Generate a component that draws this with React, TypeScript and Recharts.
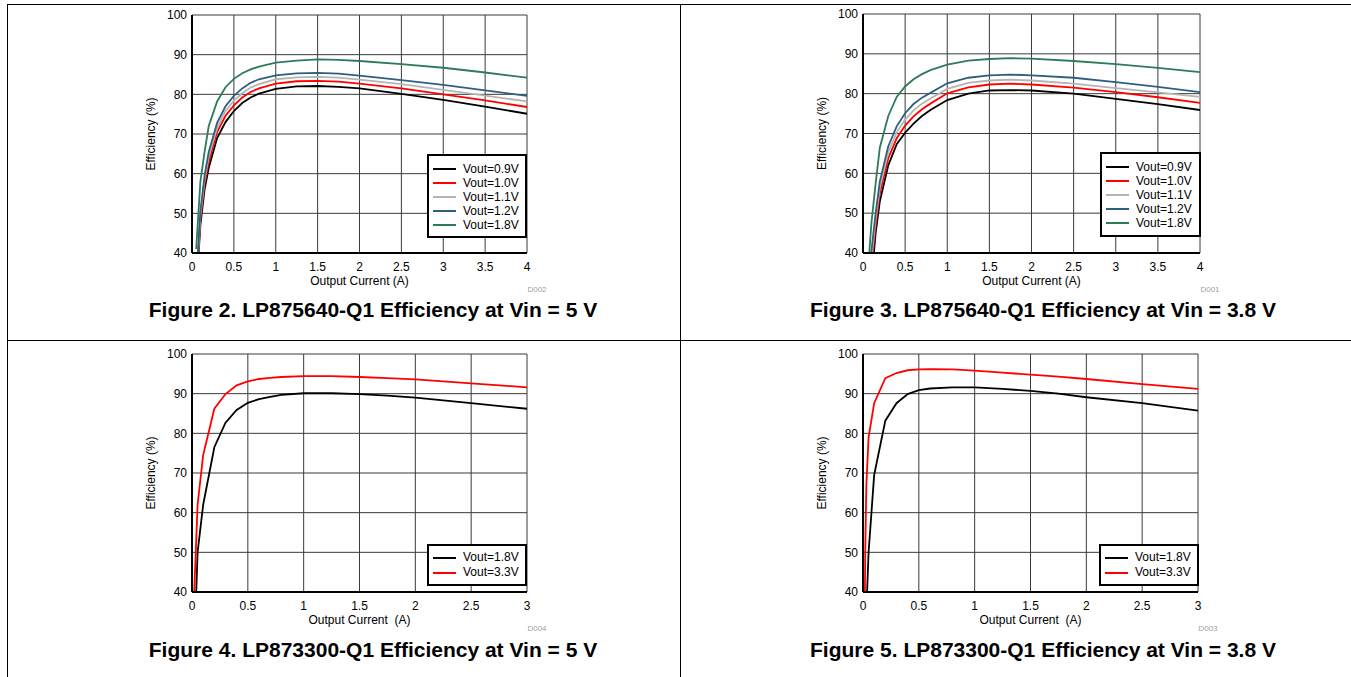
import React from 'react';
import { LineChart, Line, XAxis, YAxis, CartesianGrid, Legend } from 'recharts';

const FONT = '"Liberation Sans", Arial, Helvetica, sans-serif';

// ---------- Figure 2: LP875640-Q1, Vin = 5 V ----------
const fig2Current = [0.05, 0.1, 0.15, 0.2, 0.3, 0.4, 0.5, 0.6, 0.7, 0.8, 1.0, 1.25, 1.5, 1.75, 2.0, 2.5, 3.0, 3.5, 4.0];
const fig2V09 = [30, 47, 56, 61.5, 69, 73, 75.8, 77.8, 79.2, 80.2, 81.4, 82, 82.1, 81.9, 81.5, 80.1, 78.6, 76.9, 75.1];
const fig2V10 = [31, 48.5, 57.5, 63, 70.5, 74.6, 77.2, 79.2, 80.6, 81.5, 82.7, 83.3, 83.4, 83.2, 82.7, 81.5, 80.0, 78.5, 76.8];
const fig2V11 = [32, 49.5, 58.5, 64.3, 71.6, 75.8, 78.4, 80.3, 81.7, 82.6, 83.8, 84.3, 84.4, 84.2, 83.7, 82.6, 81.1, 79.7, 78.2];
const fig2V12 = [33, 50.5, 59.5, 65.5, 72.8, 77, 79.6, 81.5, 82.9, 83.8, 84.8, 85.3, 85.4, 85.2, 84.7, 83.6, 82.4, 81, 79.6];
const fig2V18 = [41, 58, 65.5, 72, 78.2, 81.8, 83.9, 85.3, 86.3, 87, 88, 88.5, 88.8, 88.7, 88.4, 87.6, 86.7, 85.5, 84.2];

// ---------- Figure 3: LP875640-Q1, Vin = 3.8 V ----------
const fig3Current = [0.05, 0.1, 0.15, 0.2, 0.3, 0.4, 0.5, 0.6, 0.7, 0.8, 1.0, 1.25, 1.5, 1.75, 2.0, 2.5, 3.0, 3.5, 4.0];
const fig3V09 = [20, 33, 45, 53, 62, 67.3, 70.2, 72.5, 74.4, 75.9, 78.4, 80, 80.8, 80.9, 80.8, 80, 78.7, 77.4, 75.9];
const fig3V10 = [22, 36.5, 47, 55, 63.8, 68.8, 72, 74.3, 76.1, 77.5, 80.1, 81.6, 82.3, 82.5, 82.3, 81.5, 80.4, 79.1, 77.7];
const fig3V11 = [24, 38.5, 48.5, 56.5, 65.3, 70.3, 73.5, 75.8, 77.5, 78.8, 81.2, 82.7, 83.3, 83.5, 83.3, 82.5, 81.4, 80.3, 79.2];
const fig3V12 = [26, 40.5, 50, 58, 66.8, 71.8, 75.1, 77.4, 79.0, 80.2, 82.6, 84, 84.6, 84.8, 84.6, 84, 82.9, 81.7, 80.4];
const fig3V18 = [33, 47.5, 57.5, 66.5, 74.4, 79.2, 81.8, 83.6, 84.9, 85.9, 87.3, 88.3, 88.7, 88.9, 88.8, 88.2, 87.4, 86.5, 85.4];

// ---------- Figure 4: LP873300-Q1, Vin = 5 V ----------
const fig4Current = [0.01, 0.02, 0.05, 0.1, 0.2, 0.3, 0.4, 0.5, 0.6, 0.7, 0.8, 1.0, 1.25, 1.5, 1.75, 2.0, 2.5, 3.0];
const fig4V18 = [10, 25, 50, 62, 76.5, 82.7, 85.9, 87.7, 88.6, 89.2, 89.7, 90.1, 90.1, 89.9, 89.5, 89.0, 87.6, 86.2];
const fig4V33 = [20, 40, 62, 74.5, 86.2, 89.9, 92.1, 93.1, 93.7, 94.0, 94.2, 94.4, 94.4, 94.2, 93.9, 93.6, 92.6, 91.6];

// ---------- Figure 5: LP873300-Q1, Vin = 3.8 V ----------
const fig5Current = [0.01, 0.02, 0.03, 0.05, 0.1, 0.2, 0.3, 0.4, 0.5, 0.6, 0.8, 1.0, 1.25, 1.5, 1.75, 2.0, 2.5, 3.0];
const fig5V18 = [10, 22, 35, 50, 69.5, 83.2, 87.6, 89.9, 90.9, 91.3, 91.6, 91.6, 91.2, 90.7, 90.0, 89.1, 87.6, 85.7];
const fig5V33 = [15, 50, 67, 79, 87.6, 93.9, 95.2, 95.9, 96.1, 96.2, 96.1, 95.8, 95.3, 94.8, 94.3, 93.7, 92.4, 91.2];

// ---------- tick labels / names ----------
const ticks4A = [0, 0.5, 1, 1.5, 2, 2.5, 3, 3.5, 4];
const ticks3A = [0, 0.5, 1, 1.5, 2, 2.5, 3];
const effTicks = [40, 50, 60, 70, 80, 90, 100];
const names5 = ['Vout=0.9V', 'Vout=1.0V', 'Vout=1.1V', 'Vout=1.2V', 'Vout=1.8V'];
const names2 = ['Vout=1.8V', 'Vout=3.3V'];
const colors5 = ['#000000', '#ff0000', '#b4b4b4', '#2f5f80', '#2e7b57'];
const colors2 = ['#000000', '#ff0000'];

type Series = { key: string; name: string; color: string };

function buildRows(xs: number[], cols: number[][]) {
  return xs.map((x, i) => {
    const row: Record<string, number> = { x };
    cols.forEach((c, j) => {
      row['s' + j] = c[i];
    });
    return row;
  });
}

function makeSeries(names: string[], colors: string[]): Series[] {
  return names.map((n, j) => ({ key: 's' + j, name: n, color: colors[j] }));
}

type ChartProps = {
  plotLeft: number;
  plotTop: number;
  plotW: number;
  plotH: number;
  xMax: number;
  xTicks: number[];
  data: Record<string, number>[];
  series: Series[];
  legend: { left: number; top: number; w: number; h: number; row: number; pad: number };
  xLabel: string;
  code: string;
};

function EffChart(p: ChartProps) {
  const wl = p.plotLeft - 60;
  const wt = p.plotTop - 10;
  const W = p.plotW + 80;
  const H = p.plotH + 60;
  const border = { stroke: '#000', strokeWidth: 2 };
  const lg = p.legend;
  const legendContent = () => (
    <div
      style={{
        boxSizing: 'border-box',
        width: lg.w,
        height: lg.h,
        border: '2px solid #000',
        background: '#fff',
        paddingTop: lg.pad,
        fontFamily: FONT,
        fontSize: 12,
        color: '#000',
      }}
    >
      {p.series.map((s) => (
        <div key={s.key} style={{ display: 'flex', alignItems: 'center', height: lg.row }}>
          <div style={{ marginLeft: 4, width: 23, height: 2, background: s.color }} />
          <span style={{ marginLeft: 7, lineHeight: lg.row + 'px', whiteSpace: 'nowrap' }}>{s.name}</span>
        </div>
      ))}
    </div>
  );
  return (
    <>
      <div style={{ position: 'absolute', left: wl, top: wt }}>
        <LineChart width={W} height={H} data={p.data} margin={{ top: 10, right: 20, bottom: 10, left: 10 }}>
          <CartesianGrid stroke="#3a3a3a" strokeWidth={1} />
          <XAxis
            dataKey="x"
            type="number"
            domain={[0, p.xMax]}
            ticks={p.xTicks}
            interval={0}
            allowDataOverflow
            tickSize={0}
            tickMargin={9}
            height={40}
            axisLine={border}
            tick={{ fill: '#000', fontSize: 12, fontFamily: FONT }}
            label={{
              value: p.xLabel,
              position: 'insideBottom',
              offset: 8,
              style: { fill: '#000', fontSize: 12, fontFamily: FONT, whiteSpace: 'pre' },
            }}
          />
          <XAxis
            xAxisId="top"
            orientation="top"
            dataKey="x"
            type="number"
            domain={[0, p.xMax]}
            height={0}
            tick={false}
            tickLine={false}
            axisLine={border}
          />
          <YAxis
            type="number"
            domain={[40, 100]}
            ticks={effTicks}
            interval={0}
            allowDataOverflow
            width={50}
            tickSize={0}
            tickMargin={5}
            axisLine={border}
            tick={{ fill: '#000', fontSize: 12, fontFamily: FONT }}
            label={{
              value: 'Efficiency (%)',
              angle: -90,
              position: 'insideLeft',
              offset: 9,
              style: { textAnchor: 'middle', fill: '#000', fontSize: 12, fontFamily: FONT },
            }}
          />
          <YAxis
            yAxisId="right"
            orientation="right"
            type="number"
            domain={[40, 100]}
            width={0}
            tick={false}
            tickLine={false}
            axisLine={border}
          />
          {p.series.map((s) => (
            <Line
              key={s.key}
              type="linear"
              dataKey={s.key}
              name={s.name}
              stroke={s.color}
              strokeWidth={1.8}
              dot={false}
              activeDot={false}
              isAnimationActive={false}
            />
          ))}
          <Legend
            layout="vertical"
            align="center"
            verticalAlign="middle"
            wrapperStyle={{ left: lg.left - wl, top: lg.top - wt, width: lg.w, height: lg.h }}
            content={legendContent}
          />
        </LineChart>
      </div>
      <div
        style={{
          position: 'absolute',
          left: p.plotLeft + p.plotW - 10,
          top: p.plotTop + p.plotH + 32,
          width: 40,
          textAlign: 'center',
          fontFamily: FONT,
          fontSize: 8,
          color: '#a0a0a0',
        }}
      >
        {p.code}
      </div>
    </>
  );
}

function Title({ cx, cy, text }: { cx: number; cy: number; text: string }) {
  return (
    <div
      style={{
        position: 'absolute',
        left: cx - 320,
        top: cy - 12,
        width: 640,
        height: 24,
        lineHeight: '24px',
        textAlign: 'center',
        fontFamily: FONT,
        fontWeight: 'bold',
        fontSize: 21,
        color: '#000',
        whiteSpace: 'nowrap',
      }}
    >
      {text}
    </div>
  );
}

const fig2Data = buildRows(fig2Current, [fig2V09, fig2V10, fig2V11, fig2V12, fig2V18]);
const fig3Data = buildRows(fig3Current, [fig3V09, fig3V10, fig3V11, fig3V12, fig3V18]);
const fig4Data = buildRows(fig4Current, [fig4V18, fig4V33]);
const fig5Data = buildRows(fig5Current, [fig5V18, fig5V33]);
const series5 = makeSeries(names5, colors5);
const series2 = makeSeries(names2, colors2);

export default function App() {
  const line = (style: React.CSSProperties) => (
    <div style={{ position: 'absolute', background: '#000', ...style }} />
  );
  return (
    <div
      style={{
        position: 'absolute',
        left: 0,
        top: 0,
        width: 1351,
        height: 677,
        overflow: 'hidden',
        background: '#fff',
        fontFamily: FONT,
      }}
    >
      {line({ left: 7, top: 4, width: 1344, height: 1 })}
      {line({ left: 7, top: 4, width: 1, height: 673 })}
      {line({ left: 680, top: 4, width: 1, height: 673 })}
      {line({ left: 7, top: 340, width: 1344, height: 1 })}

      <EffChart
        plotLeft={192}
        plotTop={15}
        plotW={335}
        plotH={238}
        xMax={4}
        xTicks={ticks4A}
        data={fig2Data}
        series={series5}
        legend={{ left: 427, top: 154, w: 100, h: 84, row: 14, pad: 6 }}
        xLabel="Output Current (A)"
        code="D002"
      />
      <EffChart
        plotLeft={863}
        plotTop={14}
        plotW={337}
        plotH={239}
        xMax={4}
        xTicks={ticks4A}
        data={fig3Data}
        series={series5}
        legend={{ left: 1100, top: 152, w: 101, h: 85, row: 14, pad: 6 }}
        xLabel="Output Current (A)"
        code="D001"
      />
      <EffChart
        plotLeft={192}
        plotTop={354}
        plotW={335}
        plotH={238}
        xMax={3}
        xTicks={ticks3A}
        data={fig4Data}
        series={series2}
        legend={{ left: 427, top: 544, w: 100, h: 42, row: 15, pad: 4 }}
        xLabel={'Output Current\u00a0\u00a0(A)'}
        code="D004"
      />
      <EffChart
        plotLeft={863}
        plotTop={354}
        plotW={335}
        plotH={238}
        xMax={3}
        xTicks={ticks3A}
        data={fig5Data}
        series={series2}
        legend={{ left: 1099, top: 544, w: 100, h: 42, row: 15, pad: 4 }}
        xLabel={'Output Current\u00a0\u00a0(A)'}
        code="D003"
      />

      <Title cx={373} cy={310} text="Figure 2. LP875640-Q1 Efficiency at Vin = 5 V" />
      <Title cx={1043} cy={310} text="Figure 3. LP875640-Q1 Efficiency at Vin = 3.8 V" />
      <Title cx={373} cy={650} text="Figure 4. LP873300-Q1 Efficiency at Vin = 5 V" />
      <Title cx={1043} cy={650} text="Figure 5. LP873300-Q1 Efficiency at Vin = 3.8 V" />
    </div>
  );
}
